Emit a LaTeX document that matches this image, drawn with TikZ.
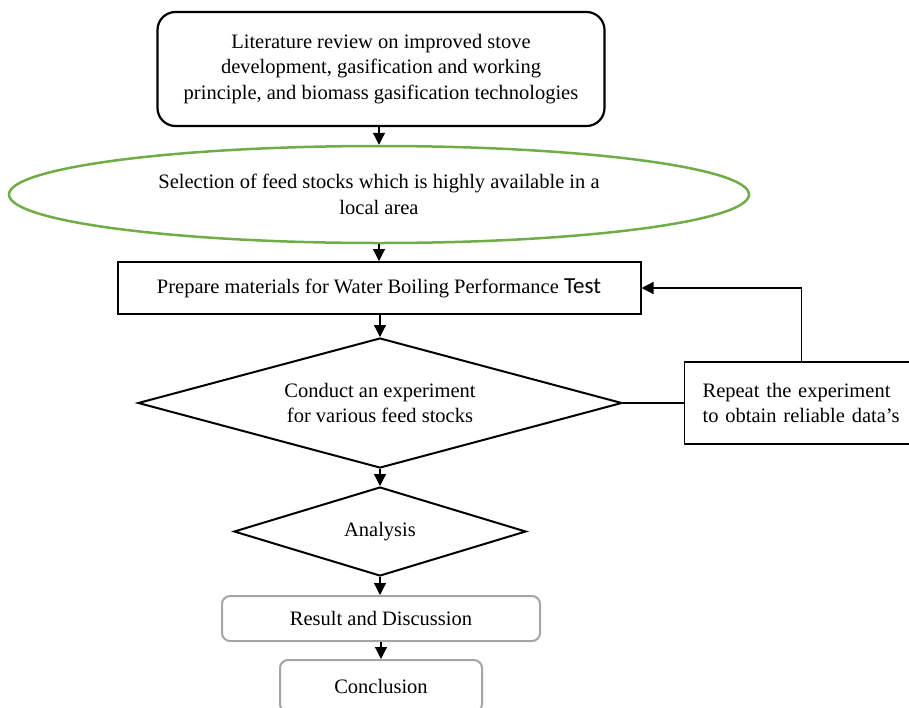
\documentclass[tikz,border=0pt]{standalone}
\usepackage{fontspec}
\setmainfont{Liberation Serif}
\newfontfamily\calibrifont{Carlito}
\usetikzlibrary{shapes.geometric,arrows.meta}
\definecolor{offgreen}{RGB}{112,173,71}
\definecolor{boxgrey}{RGB}{165,165,165}
\begin{document}
\begin{tikzpicture}[x=1pt,y=-1pt,
  every node/.style={font=\fontsize{20.5}{25.5}\selectfont, inner sep=0pt, align=center},
  roundbox/.style={draw, line width=2.2pt, rounded corners=18pt},
  ellbox/.style={draw=offgreen, ellipse, line width=2.5pt},
  plainbox/.style={draw, line width=2pt},
  decision/.style={draw, diamond, line width=2pt},
  greybox/.style={draw=boxgrey, line width=2pt, rounded corners=8pt},
  thinbox/.style={draw, line width=1.2pt},
  conn/.style={line width=1.2pt, -{Triangle[width=12pt,length=12pt]}},
  link/.style={line width=1.2pt}
]
\useasboundingbox (0,0) rectangle (909,707);

\node[roundbox, minimum width=447pt, minimum height=114pt] (top) at (381,69)
  {Literature review on improved stove\\ development, gasification and working\\ principle, and biomass gasification technologies};
\node[ellbox, minimum width=740pt, minimum height=97pt] (ell) at (379,194.5)
  {Selection of feed stocks which is highly available in a\\ local area};
\node[plainbox, minimum width=523pt, minimum height=52pt] (prep) at (379,288)
  {Prepare materials for Water Boiling Performance {\calibrifont\fontsize{23}{25.5}\selectfont Test}};
\node[decision, shape aspect=3.72, minimum width=484pt, minimum height=130pt] (exp) at (380,403)
  {Conduct an experiment\\ for various feed stocks};
\node[thinbox, anchor=west, inner xsep=18pt, text width=212pt, align=left, minimum height=82pt] (rep) at (684,403)
  {Repeat the experiment\\ to obtain reliable data's};
\node[decision, shape aspect=3.28, minimum width=292pt, minimum height=89pt] (ana) at (380,531.5) {Analysis};
\node[greybox, minimum width=318pt, minimum height=45pt] (res) at (381,618.5) {Result and Discussion};
\node[greybox, minimum width=202pt, minimum height=52pt] (conc) at (381,686) {Conclusion};

\draw[conn] (top.south -| ell.north) -- (ell.north);
\draw[conn] (ell.south) -- (prep.north -| ell.south);
\draw[conn] (prep.south -| exp.north) -- (exp.north);
\draw[conn] (exp.south) -- (ana.north);
\draw[conn] (ana.south) -- (res.north -| ana.south);
\draw[conn] (res.south) -- (conc.north);
\draw[link] (exp.east) -- (rep.west);
\draw[conn] ([xshift=-7pt]rep.north) |- (prep.east);
\end{tikzpicture}
\end{document}
